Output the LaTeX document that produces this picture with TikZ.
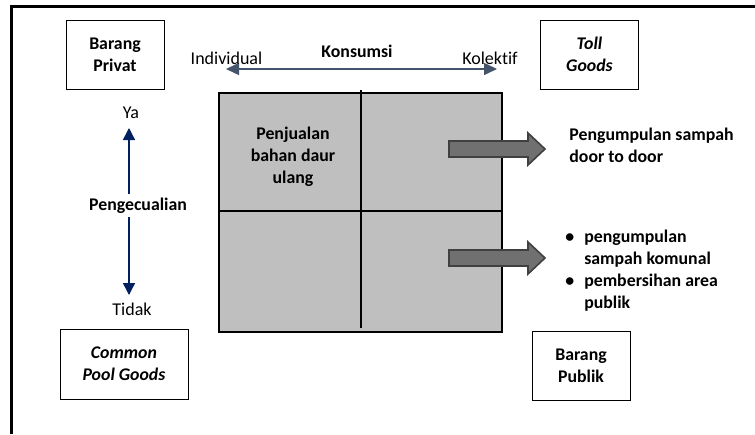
\documentclass[tikz,border=0pt]{standalone}
\usepackage{fontspec}
\setmainfont{Carlito}[Ligatures=NoCommon]
\usetikzlibrary{arrows.meta}
\definecolor{kuadran}{RGB}{191,191,191}
\definecolor{panahbiru}{RGB}{68,84,106}
\definecolor{panahnavy}{RGB}{0,32,96}
\definecolor{panahabu}{RGB}{112,112,112}
\definecolor{tepiabu}{RGB}{64,64,64}
\newcommand{\ukuran}{\fontsize{8.9}{11}\selectfont}
\tikzset{
  tebal/.style={font=\ukuran\bfseries},
  miring/.style={font=\ukuran\bfseries\itshape},
  kotak/.style={draw=black, line width=0.5pt, align=center, tebal, inner sep=0pt},
  label/.style={font=\fontsize{9}{11}\selectfont, inner sep=1pt},
  blokpanah/.style={fill=panahabu, draw=tepiabu, line width=0.8pt}
}
\begin{document}
\begin{tikzpicture}[x=0.5pt, y=-0.5pt]
\useasboundingbox (0,0) rectangle (755,434);

% Outer frame
\draw[line width=1.5pt] (11,434) -- (11,6) -- (755,6);

% Corner boxes
\node[kotak, minimum width=49pt, minimum height=34.5pt] (privat) at (115,54.5) {Barang\\Privat};
\node[kotak, minimum width=49pt, minimum height=34.5pt, miring] (toll) at (589.5,54.5) {Toll\\Goods};
\node[kotak, minimum width=64pt, minimum height=35pt, miring] (pool) at (124,364) {Common\\Pool Goods};
\node[kotak, minimum width=49pt, minimum height=34.5pt] (publik) at (581,365.5) {Barang\\Publik};

% Consumption axis
\coordinate (kiri) at (226,69);
\coordinate (kanan) at (497,69);
\draw[panahbiru, line width=0.8pt, {Triangle[length=6.5pt,width=6pt]}-{Triangle[length=6.5pt,width=6pt]}] (kiri) -- (kanan);
\node[label] (individual) at (226.5,58) {Individual};
\node[label] (kolektif) at (490,58) {Kolektif};
\node[tebal, inner sep=1pt] (konsumsi) at (357,51) {Konsumsi};

% Exclusion axis
\node[tebal, inner sep=2pt] (pengecualian) at (138,206) {Pengecualian};
\node[label] (ya) at (131,113) {Ya};
\node[label] (tidak) at (132,309) {Tidak};
\draw[panahnavy, line width=0.7pt, -{Triangle[length=6pt,width=6pt]}] (129,194) -- (129,128);
\draw[panahnavy, line width=0.7pt, -{Triangle[length=6pt,width=6pt]}] (129,217) -- (129,295);

% Quadrant square
\node[draw=black, fill=kuadran, line width=1.2pt, minimum width=141.5pt, minimum height=119.5pt, inner sep=0pt] (kuadran) at (360.5,212.5) {};
\draw[line width=0.8pt] (361,90) -- (361,328); % vertical divider
\draw[line width=0.8pt] (kuadran.west |- 0,211) -- (kuadran.east |- 0,211); % horizontal divider
\node[tebal, align=center] (penjualan) at (293,157) {Penjualan\\bahan daur\\ulang};

% Block arrows
\draw[blokpanah] (449,141) -- (528,141) -- (528,133) -- (545,149) -- (528,165) -- (528,157) -- (449,157) -- cycle;
\draw[blokpanah] (449,250) -- (528,250) -- (528,242) -- (545,258) -- (528,274) -- (528,266) -- (449,266) -- cycle;

% Outcomes
\node[tebal, align=left, anchor=west, inner sep=0pt] (tolltxt) at (569,145) {Pengumpulan sampah\\door to door};
\node[tebal, anchor=west, inner sep=0pt] (publiktxt) at (565,271) {%
  \begin{tabular}{@{}c@{\hspace{5pt}}l@{}}
  \textbullet & pengumpulan\\
              & sampah komunal\\
  \textbullet & pembersihan area\\
              & publik
  \end{tabular}};

\end{tikzpicture}
\end{document}
